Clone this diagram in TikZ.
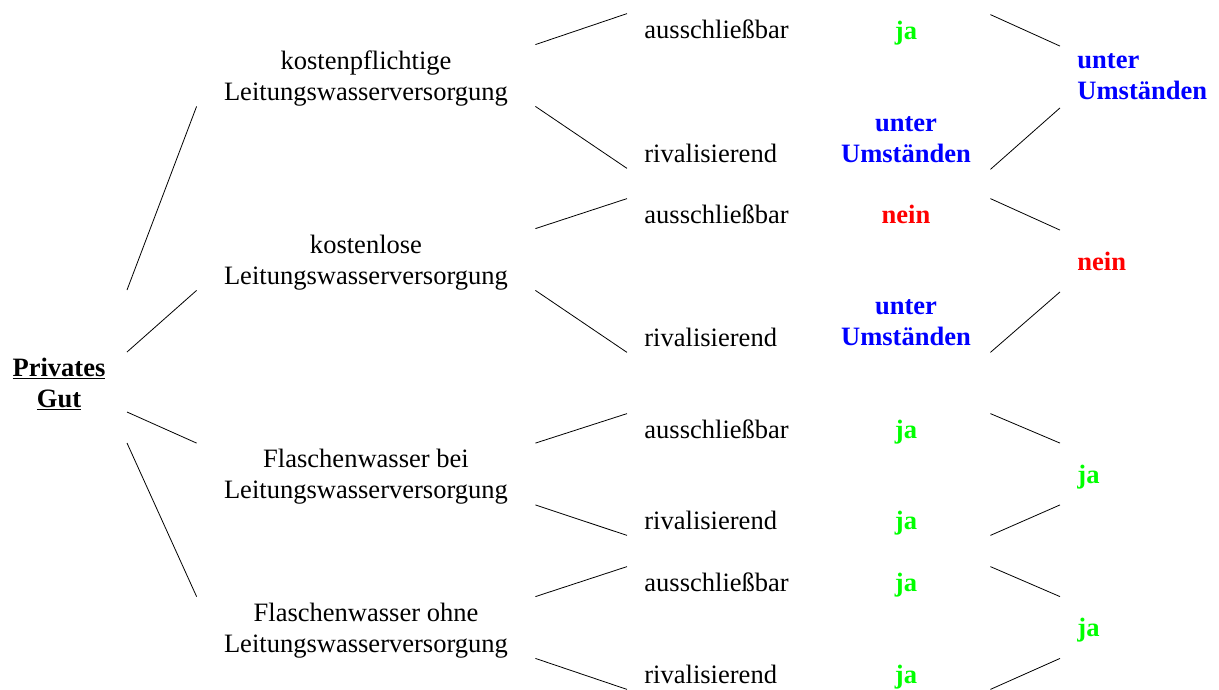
\documentclass[tikz,border=0pt]{standalone}
\usepackage{fontspec}
\setmainfont{Liberation Serif}
\usepackage{xcolor}
\definecolor{jagreen}{RGB}{0,255,0}
\definecolor{umblue}{RGB}{0,0,255}
\definecolor{neinred}{RGB}{255,0,0}

\begin{document}
\begin{tikzpicture}[x=0.75pt,y=-0.75pt,line width=0.6pt,
        every node/.style={font=\fontsize{19.9}{23.25}\selectfont},
        gut/.style={align=center,inner sep=0pt,font=\fontsize{19.9}{23.25}\selectfont\bfseries},
        art/.style={align=center,inner sep=0pt,text depth=0pt,minimum width=253.5pt,minimum height=45.75pt},
        merkmal/.style={anchor=west,inner xsep=12.75pt,inner ysep=0pt,minimum height=22.5pt},
        wert/.style={align=center,inner sep=0pt,text depth=0pt,minimum width=126pt,minimum height=22.5pt,font=\fontsize{19.9}{23.25}\selectfont\bfseries},
        wertzwei/.style={wert,minimum height=43.5pt},
        ergebnis/.style={anchor=west,align=left,inner xsep=12.75pt,inner ysep=0pt,text depth=0pt,minimum height=45.75pt,font=\fontsize{19.9}{23.25}\selectfont\bfseries}]
        \useasboundingbox (0,0) rectangle (1219,689);

        \node [gut] (priv) at (59,384) {\underline{Privates}\\\underline{Gut}};
        \coordinate (pa) at (127,290);
        \coordinate (pb) at (127,352);
        \coordinate (pc) at (127,412);
        \coordinate (pd) at (127,443);

        \node [art] (kp) at (366,75.5) {kostenpflichtige\\Leitungswasserversorgung};
        \node [art] (kl) at (366,259.5) {kostenlose\\Leitungswasserversorgung};
        \node [art] (fb) at (366,474) {Flaschenwasser bei\\Leitungswasserversorgung};
        \node [art] (fo) at (366,627.5) {Flaschenwasser ohne\\Leitungswasserversorgung};

        \node [merkmal] (kpa) at (627,29) {ausschließbar};
        \node [merkmal] (kpr) at (627,153) {rivalisierend};
        \node [merkmal] (kla) at (627,214) {ausschließbar};
        \node [merkmal] (klr) at (627,337) {rivalisierend};
        \node [merkmal] (fba) at (627,429) {ausschließbar};
        \node [merkmal] (fbr) at (627,520) {rivalisierend};
        \node [merkmal] (foa) at (627,582) {ausschließbar};
        \node [merkmal] (for) at (627,674) {rivalisierend};

        \node [wert,text=jagreen] (kpwa) at (906,30) {ja};
        \node [wertzwei,text=umblue] (kpwr) at (906,140) {unter\\Umständen};
        \node [wert,text=neinred] (klwa) at (906,214) {nein};
        \node [wertzwei,text=umblue] (klwr) at (906,323) {unter\\Umständen};
        \node [wert,text=jagreen] (fbwa) at (906,429) {ja};
        \node [wert,text=jagreen] (fbwr) at (906,520) {ja};
        \node [wert,text=jagreen] (fowa) at (906,582) {ja};
        \node [wert,text=jagreen] (fowr) at (906,674) {ja};

        \node [ergebnis,text=umblue] (kpe) at (1060,77) {unter\\Umständen};
        \node [ergebnis,text=neinred] (kle) at (1060,261) {nein};
        \node [ergebnis,text=jagreen] (fbe) at (1060,474) {ja};
        \node [ergebnis,text=jagreen] (foe) at (1060,627.5) {ja};

        \draw (pa) -- (kp.south west);
        \draw (pb) -- (kl.south west);
        \draw (pc) -- (fb.north west);
        \draw (pd) -- (fo.north west);

        \draw (kp.north east) -- (kpa.north west);
        \draw (kp.south east) -- (kpr.south west);
        \draw (kl.north east) -- (kla.north west);
        \draw (kl.south east) -- (klr.south west);
        \draw (fb.north east) -- (fba.north west);
        \draw (fb.south east) -- (fbr.south west);
        \draw (fo.north east) -- (foa.north west);
        \draw (fo.south east) -- (for.south west);

        \draw (kpwa.north east) -- (kpe.north west);
        \draw (kpwr.south east) -- (kpe.south west);
        \draw (klwa.north east) -- (kle.north west);
        \draw (klwr.south east) -- (kle.south west);
        \draw (fbwa.north east) -- (fbe.north west);
        \draw (fbwr.south east) -- (fbe.south west);
        \draw (fowa.north east) -- (foe.north west);
        \draw (fowr.south east) -- (foe.south west);
\end{tikzpicture}
\end{document}
